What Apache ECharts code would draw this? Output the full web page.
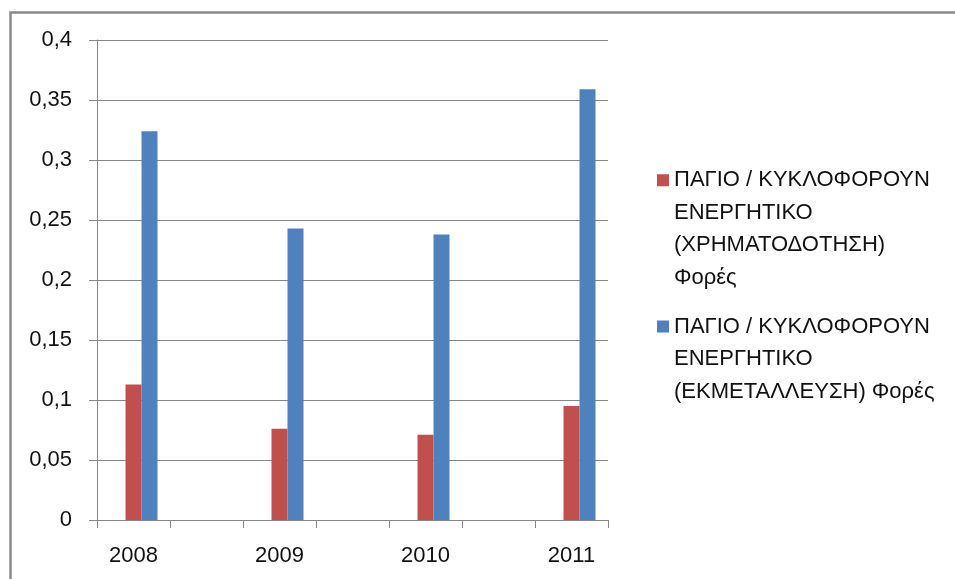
<!DOCTYPE html>
<html>
<head>
<meta charset="utf-8">
<script src="https://cdn.jsdelivr.net/npm/echarts@6/dist/echarts.min.js"></script>
<style>html,body{margin:0;padding:0;background:#fff}#c{width:955px;height:579px}</style>
</head>
<body>
<div id="c"></div>
<script>
var years = ['2008', '2009', '2010', '2011'];
var financing = [0.113, 0.076, 0.071, 0.095];
var operating = [0.324, 0.243, 0.238, 0.359];
var yTicks = [0, 0.05, 0.1, 0.15, 0.2, 0.25, 0.3, 0.35, 0.4];
var seriesNames = [
  'ΠΑΓΙΟ / ΚΥΚΛΟΦΟΡΟΥΝ ΕΝΕΡΓΗΤΙΚΟ (ΧΡΗΜΑΤΟΔΟΤΗΣΗ) Φορές',
  'ΠΑΓΙΟ / ΚΥΚΛΟΦΟΡΟΥΝ ΕΝΕΡΓΗΤΙΚΟ (ΕΚΜΕΤΑΛΛΕΥΣΗ) Φορές'
];
var legendLines = [
  'ΠΑΓΙΟ / ΚΥΚΛΟΦΟΡΟΥΝ\nΕΝΕΡΓΗΤΙΚΟ\n(ΧΡΗΜΑΤΟΔΟΤΗΣΗ)\nΦορές',
  'ΠΑΓΙΟ / ΚΥΚΛΟΦΟΡΟΥΝ\nΕΝΕΡΓΗΤΙΚΟ\n(ΕΚΜΕΤΑΛΛΕΥΣΗ) Φορές'
];

// Excel-style axis: each year occupies a slot followed by an empty slot
var cats = [], finData = [], opData = [], emptyData = [];
years.forEach(function (y, i) {
  cats.push(y); finData.push(financing[i]); opData.push(operating[i]); emptyData.push(null);
  if (i < years.length - 1) { cats.push(''); finData.push(null); opData.push(null); emptyData.push(null); }
});

var FONT = 'Liberation Sans';
var GRAY = '#868686';
var LH = 32.5;
var H = 130;
function iconPath(lines) {
  var top = H / 2 - (lines - 1) * LH / 2 - 6;
  return 'path://M0,0h0.01v0.01h-0.01z M0,' + top + 'h12v12h-12z M11.99,' + (H - 0.01) + 'h0.01v0.01h-0.01z';
}

var chart = echarts.init(document.getElementById('c'), null, {renderer: 'canvas'});
chart.setOption({
  animation: false,
  backgroundColor: '#fff',
  textStyle: {fontFamily: FONT},
  graphic: [{
    type: 'rect', left: 8, top: 10, silent: true,
    shape: {x: 0, y: 0, width: 980, height: 620},
    style: {fill: 'none', stroke: '#8a8a8a', lineWidth: 2.5}
  }],
  grid: {left: 97, right: 347, top: 40, bottom: 59, containLabel: false},
  legend: {
    orient: 'vertical', left: 652, top: 159,
    itemWidth: 12, itemHeight: H, itemGap: 0,
    data: [
      {name: seriesNames[0], icon: iconPath(4)},
      {name: seriesNames[1], icon: iconPath(3)}
    ],
    formatter: function (n) { return legendLines[seriesNames.indexOf(n)]; },
    textStyle: {fontFamily: FONT, fontSize: 22, color: '#111', lineHeight: LH, padding: [0, 0, 0, 0]},
    selectedMode: false
  },
  xAxis: {
    type: 'category', data: cats, boundaryGap: true,
    axisLine: {lineStyle: {color: GRAY, width: 1}},
    axisTick: {show: true, interval: 0, length: 8, lineStyle: {color: GRAY}},
    axisLabel: {interval: 0, margin: 25, fontSize: 22, color: '#111', fontFamily: FONT},
    splitLine: {show: false}
  },
  yAxis: {
    type: 'value', min: 0, max: 0.4, interval: 0.05,
    axisLine: {show: true, lineStyle: {color: GRAY, width: 1}},
    axisTick: {show: true, length: 8, lineStyle: {color: GRAY}},
    axisLabel: {
      margin: 25, fontSize: 22, color: '#111', fontFamily: FONT,
      formatter: function (v) {
        var t = yTicks.reduce(function (a, b) { return Math.abs(b - v) < Math.abs(a - v) ? b : a; });
        return String(t).replace('.', ',');
      }
    },
    splitLine: {show: true, lineStyle: {color: GRAY, width: 1}}
  },
  series: [
    {name: 'empty', type: 'bar', data: emptyData, barWidth: 16, barGap: '0%', itemStyle: {color: 'transparent'}},
    {name: seriesNames[0], type: 'bar', data: finData, barWidth: 16, barGap: '0%', itemStyle: {color: '#C0504D'}},
    {name: seriesNames[1], type: 'bar', data: opData, barWidth: 16, barGap: '0%', itemStyle: {color: '#4F81BD'}}
  ]
});
</script>
</body>
</html>
